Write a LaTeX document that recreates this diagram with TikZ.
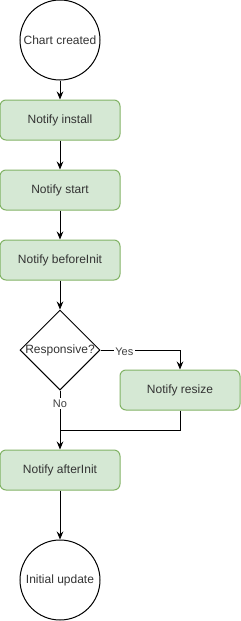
\documentclass[tikz,border=0pt]{standalone}
\usepackage{fontspec}
\setmainfont{Liberation Sans}
\usetikzlibrary{shapes.geometric,arrows.meta}

\begin{document}
\begin{tikzpicture}[x=0.75pt, y=-0.75pt, line width=0.75pt,
	font=\fontsize{9pt}{11pt}\selectfont,
	terminal/.style={draw, circle, minimum size=60pt, inner sep=0pt, text=black!80},
	process/.style={draw=notifyline, fill=notifyfill, rounded corners=4.5pt,
		minimum width=90pt, minimum height=30pt, inner sep=0pt, text=black!80},
	decision/.style={draw, diamond, minimum width=60pt, minimum height=60pt, inner sep=0pt},
	flow/.style={-{Stealth[length=6pt, width=5pt, inset=2pt]}},
	branch/.style={fill=white, inner sep=1pt, text=black!75,
		font=\fontsize{8.25pt}{10pt}\selectfont}]

	\definecolor{notifyfill}{HTML}{D5E8D4}
	\definecolor{notifyline}{HTML}{82B366}

	\useasboundingbox (0,0) rectangle (241,621);

	\node[terminal] (created) at (60,40) {Chart created};
	\node[process] (install) at (60,120) {Notify install};
	\node[process] (start) at (60,190) {Notify start};
	\node[process] (before) at (60,260) {Notify beforeInit};
	\node[decision, label={[text=black!80]center:Responsive?}] (resp) at (60,350) {};
	\node[process] (resize) at (180,390) {Notify resize};
	\node[process] (after) at (60,470) {Notify afterInit};
	\node[terminal] (update) at (60,580) {Initial update};

	\coordinate (merge) at (60,430);

	\draw[flow] (created) -- (install);
	\draw[flow] (install) -- (start);
	\draw[flow] (start) -- (before);
	\draw[flow] (before) -- (resp);
	\draw[flow] (resp.east) -| node[branch, pos=0.15, yshift=-1.5pt] {Yes} (resize.north);
	\draw[flow] (resp.south) -- node[branch, pos=0.22] {No} (after.north);
	\draw (resize.south) |- (merge);
	\draw[flow] (after) -- (update);

\end{tikzpicture}
\end{document}
